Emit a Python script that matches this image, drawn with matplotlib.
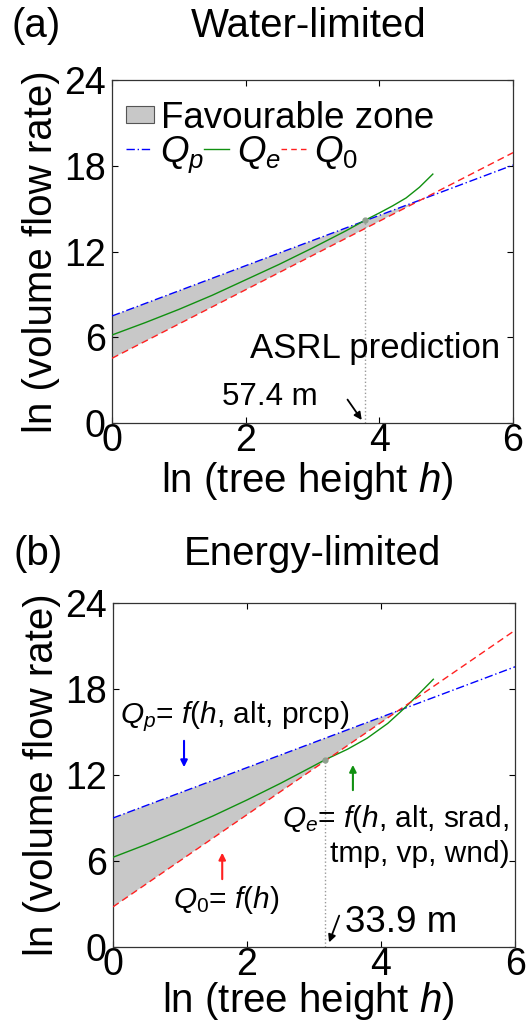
import numpy as np
import matplotlib
matplotlib.use("Agg")
import matplotlib.pyplot as plt
from matplotlib.patches import Patch
from matplotlib.lines import Line2D

plt.rcParams['font.family'] = ['Liberation Sans', 'DejaVu Sans']
plt.rcParams['mathtext.fontset'] = 'custom'
plt.rcParams['mathtext.rm'] = 'Liberation Sans'
plt.rcParams['mathtext.it'] = 'Liberation Sans:italic'

# ---- data ----
x_ends = [0, 6]

# (a) water-limited
qp_a = [7.49, 18.05]
q0_a = [4.53, 18.92]
qe_a_x = [0, 0.5, 1, 1.5, 2, 2.5, 3, 3.5, 3.79, 4.0, 4.2, 4.4, 4.6, 4.8]
qe_a_y = [6.16, 7.03, 7.95, 8.94, 10.02, 11.1, 12.25, 13.45, 14.2, 14.7, 15.2, 15.75, 16.5, 17.42]
asrl_a = (3.79, 14.2)

# (b) energy-limited
qp_b = [9.0, 19.55]
q0_b = [2.8, 22.1]
qe_b_x = [0, 0.5, 1, 1.5, 2, 2.5, 3, 3.16, 3.5, 3.79, 4.1, 4.3, 4.5, 4.78]
qe_b_y = [6.26, 7.16, 8.13, 9.16, 10.26, 11.42, 12.65, 13.05, 13.8, 14.56, 15.6, 16.45, 17.35, 18.68]
asrl_b = (3.16, 13.05)

xticks = [0, 2, 4, 6]
yticks = [0, 6, 12, 18, 24]

c_fill = '#c8c8c8'
c_qp = '#0000ff'
c_qe = '#109010'
c_q0 = '#ff2020'

TICK_FS = 27
LAB_FS = 29

fig = plt.figure(figsize=(5.27, 10.25), dpi=100)
ax_a = fig.add_axes([0.2125, 0.5873, 0.761, 0.3346])
ax_b = fig.add_axes([0.2144, 0.0761, 0.763, 0.3356])


def draw_panel(ax, qp, q0, qe_x, qe_y, pt, xlab_y):
    ax.fill_between(x_ends, q0, qp, where=[True, False], interpolate=True,
                    facecolor=c_fill, edgecolor='none', zorder=1)
    ax.plot(x_ends, qp, color=c_qp, lw=1.0, linestyle=(0, (6, 2, 1, 2)), zorder=3)
    ax.plot(qe_x, qe_y, color=c_qe, lw=1.0, zorder=3)
    ax.plot(x_ends, q0, color=c_q0, lw=1.0, linestyle=(0, (5, 3)), zorder=3)
    ax.plot([pt[0], pt[0]], [0, pt[1]], linestyle=':', color='#999999', lw=1.0, zorder=2)
    ax.plot([pt[0]], [pt[1]], 'o', color='#8fa08f', ms=3.5, zorder=4)
    ax.set_xlim(0, 6)
    ax.set_ylim(0, 24)
    ax.set_xticks(xticks)
    ax.set_yticks(yticks)
    ax.tick_params(direction='in', top=True, right=True, length=4, width=0.8,
                   labelsize=TICK_FS)
    ax.tick_params(axis='x', pad=0)
    ax.tick_params(axis='y', pad=4.5)
    for s in ax.spines.values():
        s.set_linewidth(0.9)
        s.set_color('#333333')
    ax.set_xlabel('ln (tree height $h$)', fontsize=LAB_FS)
    ax.xaxis.label.set_va('baseline')
    ax.xaxis.set_label_coords(0.486, xlab_y)
    ax.set_ylabel('ln (volume flow rate)', fontsize=LAB_FS)
    ax.yaxis.label.set_va('baseline')
    ax.yaxis.set_label_coords(-0.150, 0.5)


draw_panel(ax_a, qp_a, q0_a, qe_a_x, qe_a_y, asrl_a, -0.201)
draw_panel(ax_b, qp_b, q0_b, qe_b_x, qe_b_y, asrl_b, -0.188)

# legend of panel (a)
leg1 = ax_a.legend([Patch(facecolor=c_fill, edgecolor='#555555', lw=0.8)],
                   ['Favourable zone'], loc='upper left', bbox_to_anchor=(0.027, 0.95),
                   frameon=False, fontsize=26.5, handlelength=0.75, handleheight=0.35,
                   handletextpad=0.2, borderpad=0.1, borderaxespad=0)
ax_a.add_artist(leg1)
ax_a.legend([Line2D([], [], color=c_qp, lw=1.0, linestyle=(0, (6, 2, 1, 2))),
             Line2D([], [], color=c_qe, lw=1.0),
             Line2D([], [], color=c_q0, lw=1.0, linestyle=(0, (4, 3)))],
            ['$Q_p$', '$Q_e$', '$Q_0$'], loc='upper left', bbox_to_anchor=(0.027, 0.853),
            ncol=3, frameon=False, fontsize=26.5, handlelength=0.7, handletextpad=0.2,
            columnspacing=0.0, borderpad=0.1, borderaxespad=0)

# annotations (a)
ax_a.text(5.81, 4.53, 'ASRL prediction', fontsize=25, ha='right', va='baseline')
ax_a.text(1.65, 1.26, '57.4 m', fontsize=22.5, ha='left', va='baseline')
ax_a.annotate('', xy=(3.76, 0.05), xytext=(3.5, 1.8),
              arrowprops=dict(arrowstyle='-|>', color='black', lw=1.3, mutation_scale=11))

# annotations (b)
ax_b.text(0.1, 15.6, '$Q_p$= $f$($h$, alt, prcp)', fontsize=21.5, ha='left', va='baseline')
ax_b.text(2.52, 8.4, '$Q_e$= $f$($h$, alt, srad,', fontsize=21.5, ha='left', va='baseline')
ax_b.text(3.24, 5.95, 'tmp, vp, wnd)', fontsize=21.5, ha='left', va='baseline')
ax_b.text(0.9, 2.7, '$Q_0$= $f$($h$)', fontsize=21.5, ha='left', va='baseline')
ax_b.text(3.46, 1.07, '33.9 m', fontsize=26.5, ha='left', va='baseline')
ax_b.annotate('', xy=(1.06, 12.35), xytext=(1.06, 14.58),
              arrowprops=dict(arrowstyle='-|>', color=c_qp, lw=1.5, mutation_scale=10))
ax_b.annotate('', xy=(3.58, 12.9), xytext=(3.58, 10.75),
              arrowprops=dict(arrowstyle='-|>', color=c_qe, lw=1.5, mutation_scale=10))
ax_b.annotate('', xy=(1.63, 6.77), xytext=(1.63, 4.54),
              arrowprops=dict(arrowstyle='-|>', color=c_q0, lw=1.5, mutation_scale=10))
ax_b.annotate('', xy=(3.21, 0.14), xytext=(3.39, 2.37),
              arrowprops=dict(arrowstyle='-|>', color='black', lw=1.3, mutation_scale=11))

# panel titles
fig.text(12 / 527, 1 - 37 / 1025, '(a)', fontsize=LAB_FS, ha='left', va='baseline')
fig.text(309 / 527, 1 - 37 / 1025, 'Water-limited', fontsize=LAB_FS, ha='center', va='baseline')
fig.text(13 / 527, 1 - 565 / 1025, '(b)', fontsize=LAB_FS, ha='left', va='baseline')
fig.text(312 / 527, 1 - 565 / 1025, 'Energy-limited', fontsize=LAB_FS, ha='center', va='baseline')

fig.savefig('out.png', dpi=100)
